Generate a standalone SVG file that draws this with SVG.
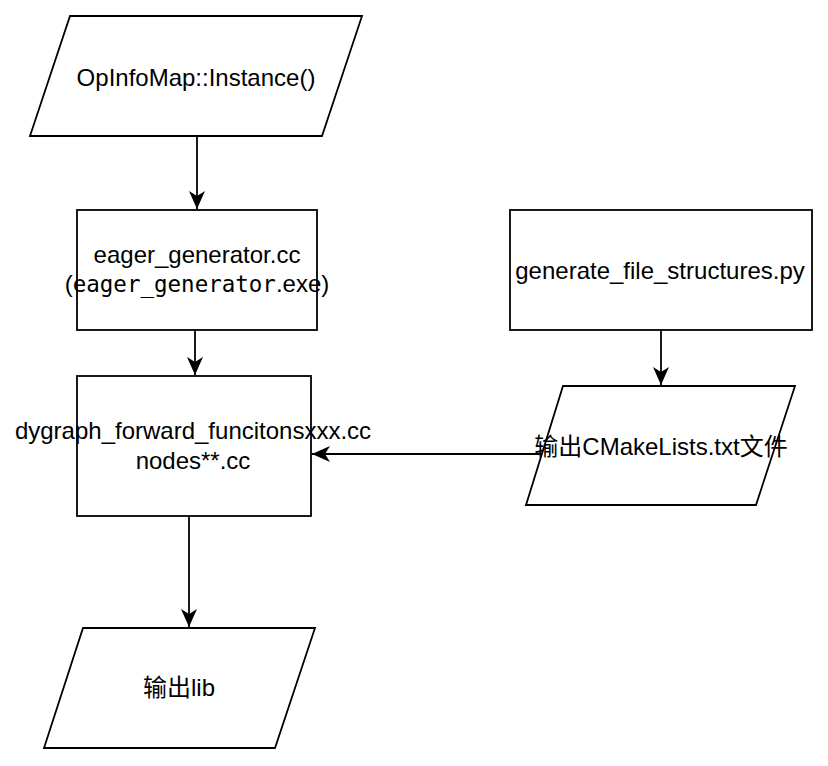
<svg xmlns="http://www.w3.org/2000/svg" width="828" height="766" viewBox="0 0 828 766">
<style>
.shape{fill:#fff;stroke:#000;stroke-width:1.8}
.edge{fill:none;stroke:#000;stroke-width:1.8}
.t{font-family:"Liberation Sans","Noto Sans CJK SC",Arial,sans-serif;font-size:24px;fill:#000;text-anchor:middle}
.m{font-family:"DejaVu Sans Mono","Liberation Mono",monospace;font-size:22.5px}
</style>
<defs>
<marker id="arr" viewBox="-19 -9 20 18" markerWidth="20" markerHeight="18" refX="0" refY="0" orient="auto" markerUnits="userSpaceOnUse">
<path d="M0,0 L-18,-8 L-13,0 L-18,8 Z" fill="#000"/>
</marker>
</defs>
<rect width="828" height="766" fill="#fff"/>
<g id="connectors">
<line class="edge" x1="197" y1="136" x2="197" y2="209" marker-end="url(#arr)"/>
<line class="edge" x1="195" y1="330" x2="195" y2="375" marker-end="url(#arr)"/>
<line class="edge" x1="661" y1="330" x2="661" y2="385" marker-end="url(#arr)"/>
<line class="edge" x1="542" y1="454" x2="312" y2="454" marker-end="url(#arr)"/>
<line class="edge" x1="189" y1="516" x2="189" y2="627" marker-end="url(#arr)"/>
</g>
<g id="n1">
<polygon class="shape" points="70,16 362,16 322,136 30,136"/>
<text class="t" x="196" y="86">OpInfoMap::Instance()</text>
</g>
<g id="n2">
<rect class="shape" x="77" y="210" width="240" height="120"/>
<text class="t" x="197" y="263">eager_generator.cc</text>
<text class="t" x="197" y="292">(<tspan class="m">eager_generator</tspan>.exe)</text>
</g>
<g id="n3">
<rect class="shape" x="77" y="376" width="234" height="140"/>
<text class="t" x="193" y="439">dygraph_forward_funcitonsxxx.cc</text>
<text class="t" x="193" y="469">nodes**.cc</text>
</g>
<g id="n4">
<rect class="shape" x="510" y="210" width="302" height="120"/>
<text class="t" x="660" y="279">generate_file_structures.py</text>
</g>
<g id="n5">
<polygon class="shape" points="563,386 795,386 756,505 526,505"/>
<text class="t" x="661" y="455">输出CMakeLists.txt文件</text>
</g>
<g id="n6">
<polygon class="shape" points="83,628 315,628 275,748 44,748"/>
<text class="t" x="179" y="696">输出lib</text>
</g>
</svg>
